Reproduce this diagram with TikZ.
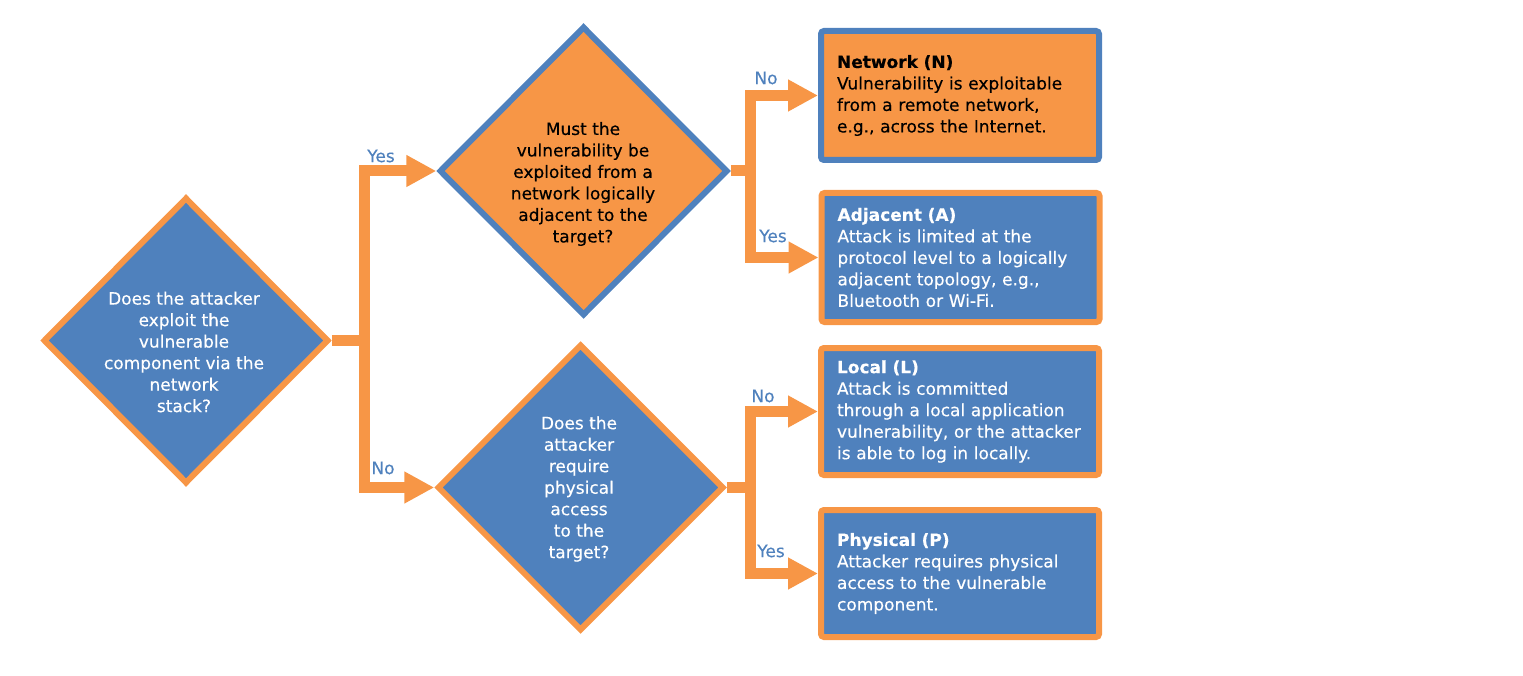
\documentclass[tikz,border=0pt]{standalone}
\usepackage{fontspec}
\setmainfont{DejaVu Sans}[FakeBold=0.35]
\usetikzlibrary{shapes.geometric,arrows.meta}
\definecolor{cblue}{RGB}{79,129,189}
\definecolor{corange}{RGB}{247,150,70}
\begin{document}
\begin{tikzpicture}[x=1pt,y=-1pt,
  every node/.style={font=\fontsize{17}{21.5}\selectfont},
  diabox/.style={diamond,line width=6pt,inner sep=0pt},
  dblue/.style={diabox,fill=cblue,draw=corange},
  dorange/.style={diabox,fill=corange,draw=cblue},
  qtext/.style={align=center,inner sep=0pt},
  resbox/.style={rectangle,rounded corners=3pt,line width=6pt,
    minimum width=278pt,text width=246pt,inner xsep=16pt,inner ysep=0pt,align=left},
  rblue/.style={resbox,fill=cblue,draw=corange,text=white},
  rorange/.style={resbox,fill=corange,draw=cblue,text=black},
  conn/.style={draw=corange,line width=11pt,line join=miter},
  arr/.style={conn,-{Triangle[length=30pt,width=30pt]}},
  lbl/.style={text=cblue,inner sep=0pt}
]
\useasboundingbox (0,0) rectangle (1523,676);

% decision diamonds
\node[dblue,minimum width=285.5pt,minimum height=286.5pt] (q1) at (186,340.5) {};
\node[dorange,minimum width=288.5pt,minimum height=289.5pt] (q2) at (583.5,171) {};
\node[dblue,minimum width=286.5pt,minimum height=286.5pt] (q3) at (580.5,487.5) {};

\node[qtext,text=white] (t1) at (184,352) {Does the attacker\\exploit the\\vulnerable\\component via the\\network\\stack?};
\node[qtext,text=black] (t2) at (583,184) {Must the\\vulnerability be\\exploited from a\\network logically\\adjacent to the\\target?};
\node[qtext,text=white] (t3) at (579,489) {Does the\\attacker\\require\\physical\\access\\to the\\target?};

% result boxes
\node[rorange,minimum height=129pt] (bN) at (960,95.5) {\textbf{Network (N)}\\Vulnerability is exploitable\\from a remote network,\\e.g., across the Internet.};
\node[rblue,minimum height=129pt] (bA) at (960.5,257.5) {\textbf{Adjacent (A)}\\Attack is limited at the\\protocol level to a logically\\adjacent topology, e.g.,\\Bluetooth or Wi-Fi.};
\node[rblue,minimum height=127pt] (bL) at (960,411.5) {\textbf{Local (L)}\\Attack is committed\\through a local application\\vulnerability, or the attacker\\is able to log in locally.};
\node[rblue,minimum height=127pt] (bP) at (960,573.5) {\textbf{Physical (P)}\\Attacker requires physical\\access to the vulnerable\\component.};

% junctions
\coordinate (j1) at (364,340.5);
\coordinate (j2) at (750,171);
\coordinate (j3) at (750,487.5);

% connectors
\draw[conn] (q1.east) -- (j1);
\draw[arr] (j1) |- (q2.west);
\draw[arr] (j1) |- (q3.west);
\draw[conn] (q2.east) -- (j2);
\draw[arr] (j2) |- (bN.west);
\draw[arr] (j2) |- (bA.west);
\draw[conn] (q3.east) -- (j3);
\draw[arr] (j3) |- (bL.west);
\draw[arr] (j3) |- (bP.west);

% labels
\node[lbl] (l1) at (381,156) {Yes};
\node[lbl] (l2) at (383,468) {No};
\node[lbl] (l3) at (766,78) {No};
\node[lbl] (l4) at (773,236) {Yes};
\node[lbl] (l5) at (763,396) {No};
\node[lbl] (l6) at (771,551) {Yes};
\end{tikzpicture}
\end{document}
